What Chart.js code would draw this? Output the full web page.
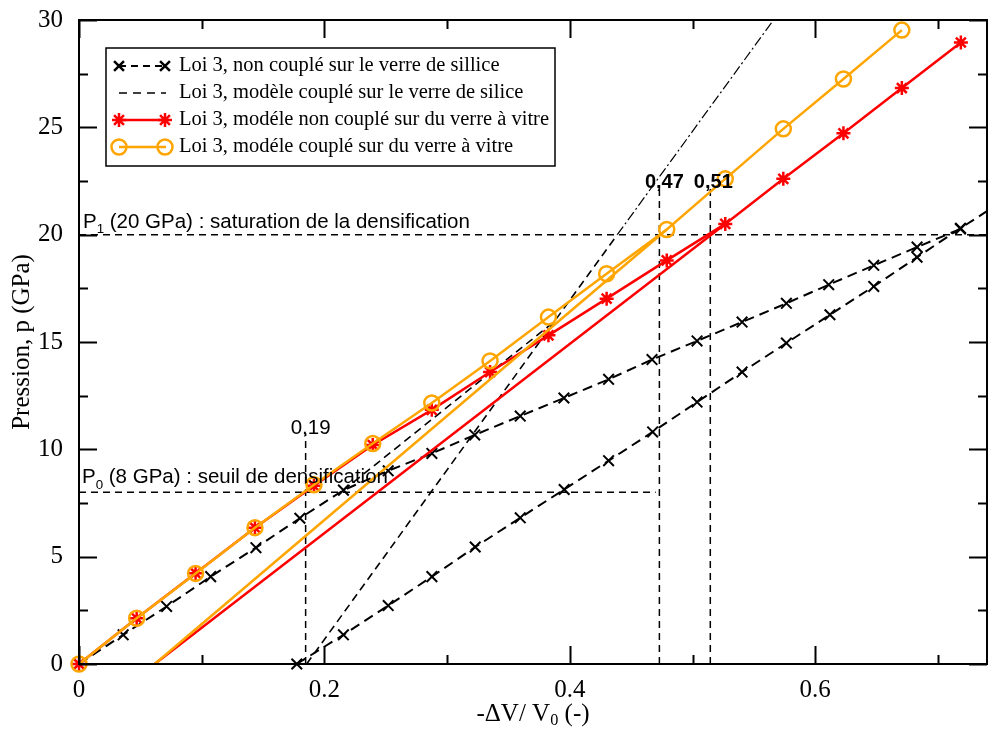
<!DOCTYPE html>
<html>
<head>
<meta charset="utf-8">
<script src="https://cdn.jsdelivr.net/npm/chart.js@4.4.0/dist/chart.umd.min.js"></script>
<style>
  body { margin: 0; background: #fff; }
  canvas { display: block; }
</style>
</head>
<body>
<canvas id="chart" width="988" height="730"></canvas>
<script>
// Loi 3, non couplé, verre de silice : branche montante puis descendante
var siliceUpX = [0, 0.036, 0.0714, 0.1073, 0.1442, 0.180, 0.2155, 0.252, 0.2876, 0.3225, 0.3596, 0.3952, 0.4316, 0.467, 0.5037, 0.5404, 0.5765, 0.611, 0.6477, 0.683, 0.7184];
var siliceUpY = [0, 1.36, 2.68, 4.07, 5.42, 6.79, 8.1, 9.0, 9.81, 10.67, 11.55, 12.39, 13.26, 14.18, 15.05, 15.93, 16.8, 17.67, 18.57, 19.42, 20.27];
var siliceDownX = [0.1775, 0.2155, 0.252, 0.2876, 0.3229, 0.3596, 0.3954, 0.4316, 0.4675, 0.5037, 0.5404, 0.5765, 0.612, 0.6477, 0.683, 0.7184, 0.755];
var siliceDownY = [0, 1.36, 2.72, 4.07, 5.45, 6.81, 8.13, 9.47, 10.81, 12.2, 13.6, 14.95, 16.27, 17.59, 18.95, 20.3, 21.65];

// Loi 3, modèle couplé, verre de silice
var coupleX = [0.2155, 0.3875, 0.4387];
var coupleY = [8.1, 15.96, 20.0];
var coupleBackX = [0.1855, 0.3875];
var coupleBackY = [0, 15.96];
var coupleSatX = [0.4387, 0.5787];
var coupleSatY = [20.0, 31.0];

// verre à vitre
var vitreX = [0, 0.047, 0.095, 0.1434, 0.1915, 0.2394, 0.2875, 0.335, 0.3826, 0.430, 0.479, 0.5267, 0.574, 0.623, 0.6706, 0.7187];
var vitreNonCoupleY = [0, 2.13, 4.23, 6.35, 8.3, 10.2, 11.84, 13.6, 15.31, 17.02, 18.8, 20.5, 22.6, 24.72, 26.83, 28.95];
var vitreCoupleY = [0, 2.13, 4.22, 6.35, 8.35, 10.27, 12.16, 14.12, 16.16, 18.18, 20.24, 22.6, 24.93, 27.25, 29.53];
var vitreNcBackX = [0.0617, 0.5267];
var vitreNcBackY = [0, 20.5];
var vitreCBackX = [0.0617, 0.479];
var vitreCBackY = [0, 20.24];

// droites de repère
var p1Line = [[0, 20], [0.74, 20]];
var p0Line = [[0, 8], [0.470, 8]];
var v019 = [[0.1847, 0], [0.1847, 10.75]];
var v047 = [[0.473, 0], [0.473, 22.15]];
var v051 = [[0.5145, 0], [0.5145, 22.15]];

var xTicks = [0, 0.2, 0.4, 0.6];
var yTicks = [0, 5, 10, 15, 20, 25, 30];

function pts(xs, ys) {
    var out = [];
    for (var i = 0; i < ys.length; i++) out.push({ x: xs[i], y: ys[i] });
    return out;
}
function pairs(arr) {
    return arr.map(function (p) { return { x: p[0], y: p[1] }; });
}

var RED = '#ff0000';
var ORANGE = '#ffa500';

function refLine(data) {
    return {
        data: pairs(data), showLine: true, borderColor: '#000', borderWidth: 1.5,
        borderDash: [7, 5], pointRadius: 0, order: 10, clip: false
    };
}

var datasets = [
    { label: 'Loi 3, modéle couplé sur du verre à vitre', data: pts(vitreX, vitreCoupleY), showLine: true,
      borderColor: ORANGE, borderWidth: 2.5, pointStyle: 'circle', pointRadius: 7.5, pointBorderWidth: 2.5,
      pointBackgroundColor: 'rgba(0,0,0,0)', pointBorderColor: ORANGE, order: 0, clip: false },
    { data: pts(vitreCBackX, vitreCBackY), showLine: true, borderColor: ORANGE, borderWidth: 2.5, pointRadius: 0, order: 1, clip: false },
    { label: 'Loi 3, modéle non couplé sur du verre à vitre', data: pts(vitreX, vitreNonCoupleY), showLine: true,
      borderColor: RED, borderWidth: 2.5, pointStyle: 'star', pointRadius: 7, pointBorderWidth: 2.5,
      pointBorderColor: RED, pointBackgroundColor: RED, order: 2, clip: false },
    { data: pts(vitreNcBackX, vitreNcBackY), showLine: true, borderColor: RED, borderWidth: 2.5, pointRadius: 0, order: 3, clip: false },
    { label: 'Loi 3, non couplé sur le verre de sillice', data: pts(siliceUpX, siliceUpY), showLine: true,
      borderColor: '#000', borderWidth: 2, borderDash: [10, 6], pointStyle: 'crossRot', pointRadius: 7.5,
      pointBorderWidth: 2, pointBorderColor: '#000', order: 4, clip: false },
    { data: pts(siliceDownX, siliceDownY), showLine: true, borderColor: '#000', borderWidth: 2, borderDash: [10, 6],
      pointStyle: 'crossRot', pointRadius: 7.5, pointBorderWidth: 2, pointBorderColor: '#000', order: 5, clip: false },
    { label: 'Loi 3, modéle couplé sur le verre de silice', data: pts(coupleX, coupleY), showLine: true,
      borderColor: '#000', borderWidth: 1.6, borderDash: [8, 5], pointRadius: 0, order: 6 },
    { data: pts(coupleBackX, coupleBackY), showLine: true, borderColor: '#000', borderWidth: 1.6, borderDash: [8, 5], pointRadius: 0, order: 6 },
    { data: pts(coupleSatX, coupleSatY), showLine: true, borderColor: '#000', borderWidth: 1.2, borderDash: [10, 3, 2, 3], pointRadius: 0, order: 6 },
    refLine(p1Line), refLine(p0Line), refLine(v019), refLine(v047), refLine(v051)
];

// legende faite a la main (symbole a chaque bout du trait)
var legendItems = [
    { text: 'Loi 3, non couplé sur le verre de sillice', color: '#000', width: 2, dash: [7, 5], marker: 'crossRot', r: 7 },
    { text: 'Loi 3, modèle couplé sur le verre de silice', color: '#000', width: 1.6, dash: [8, 6], marker: null },
    { text: 'Loi 3, modéle non couplé sur du verre à vitre', color: RED, width: 2.5, dash: [], marker: 'star', r: 7 },
    { text: 'Loi 3, modéle couplé sur du verre à vitre', color: ORANGE, width: 2.5, dash: [], marker: 'circle', r: 7.5 }
];

function drawSubText(ctx, x, y, parts, size, family, weight) {
    // parts: [text, isSub]
    parts.forEach(function (p) {
        var s = p[1] ? size * 0.65 : size;
        ctx.font = (weight || 'normal') + ' ' + s + 'px ' + family;
        ctx.fillText(p[0], x, y + (p[1] ? size * 0.28 : 0));
        x += ctx.measureText(p[0]).width;
    });
    return x;
}

var decorPlugin = {
    id: 'decor',
    afterDatasetsDraw: function (chart) {
        var ctx = chart.ctx, xs = chart.scales.x, ys = chart.scales.y;
        ctx.save();
        ctx.fillStyle = '#000';
        ctx.textAlign = 'left';
        ctx.textBaseline = 'alphabetic';
        var sans = '"Liberation Sans", Arial, sans-serif';
        drawSubText(ctx, xs.getPixelForValue(0) + 4, ys.getPixelForValue(20) - 7,
            [['P', false], ['1', true], [' (20 GPa) : saturation de la densification', false]], 20.5, sans);
        drawSubText(ctx, xs.getPixelForValue(0) + 3, ys.getPixelForValue(8) - 9,
            [['P', false], ['0', true], [' (8 GPa) : seuil de densification', false]], 20.5, sans);
        ctx.textAlign = 'center';
        ctx.font = '20.5px ' + sans;
        ctx.fillText('0,19', xs.getPixelForValue(v019[0][0]) + 5, ys.getPixelForValue(v019[1][1]) + 1);
        ctx.font = 'bold 20px ' + sans;
        ctx.fillText('0,47', xs.getPixelForValue(v047[0][0]) + 5, ys.getPixelForValue(v047[1][1]) - 1);
        ctx.fillText('0,51', xs.getPixelForValue(v051[0][0]) + 3, ys.getPixelForValue(v051[1][1]) - 1);
        ctx.restore();
    },
    afterDraw: function (chart) {
        var ctx = chart.ctx, a = chart.chartArea, xs = chart.scales.x, ys = chart.scales.y;
        ctx.save();
        // cadre + graduations vers l'interieur
        ctx.strokeStyle = '#000';
        ctx.lineWidth = 2;
        ctx.setLineDash([]);
        ctx.strokeRect(a.left, a.top, a.right - a.left, a.bottom - a.top);
        ctx.beginPath();
        for (var i = 0; i <= 7; i++) {
            var px = Math.round(xs.getPixelForValue(i / 10)) + 0.5;
            var len = i % 2 === 0 ? 18 : 9;
            ctx.moveTo(px, a.bottom); ctx.lineTo(px, a.bottom - len);
            ctx.moveTo(px, a.top); ctx.lineTo(px, a.top + len);
        }
        for (var j = 0; j <= 12; j++) {
            var py = Math.round(ys.getPixelForValue(j * 2.5)) + 0.5;
            var l2 = j % 2 === 0 ? 18 : 9;
            ctx.moveTo(a.left, py); ctx.lineTo(a.left + l2, py);
            ctx.moveTo(a.right, py); ctx.lineTo(a.right - l2, py);
        }
        ctx.stroke();

        // titres des axes
        var serif = '"Liberation Serif", "Times New Roman", serif';
        ctx.fillStyle = '#000';
        ctx.textBaseline = 'middle';
        var parts = [['-ΔV/ V', false], ['0', true], [' (-)', false]];
        var w = 0;
        parts.forEach(function (p) {
            ctx.font = (p[1] ? 16.25 : 25) + 'px ' + serif;
            w += ctx.measureText(p[0]).width;
        });
        ctx.textAlign = 'left';
        drawSubText(ctx, (a.left + a.right) / 2 - w / 2, 714, parts, 25, serif);
        ctx.save();
        ctx.translate(22, (a.top + a.bottom) / 2);
        ctx.rotate(-Math.PI / 2);
        ctx.textAlign = 'center';
        ctx.font = '25px ' + serif;
        ctx.fillText('Pression, p (GPa)', 0, 0);
        ctx.restore();

        // legende
        var bx = 106, by = 48, bw = 449, bh = 118;
        ctx.fillStyle = '#fff';
        ctx.fillRect(bx, by, bw, bh);
        ctx.lineWidth = 1.5;
        ctx.strokeStyle = '#000';
        ctx.strokeRect(bx, by, bw, bh);
        legendItems.forEach(function (it, k) {
            var cy = 66 + k * 27;
            ctx.strokeStyle = it.color;
            ctx.lineWidth = it.width;
            ctx.setLineDash(it.dash);
            ctx.beginPath();
            ctx.moveTo(119, cy); ctx.lineTo(166, cy);
            ctx.stroke();
            ctx.setLineDash([]);
            if (it.marker) {
                ctx.fillStyle = it.marker === 'circle' ? 'rgba(0,0,0,0)' : it.color;
                ctx.lineWidth = 2.5;
                [119, 165].forEach(function (mx) {
                    Chart.helpers.drawPoint(ctx, { pointStyle: it.marker, radius: it.r, rotation: 0, borderWidth: 2.5 }, mx, cy);
                });
            }
            ctx.fillStyle = '#000';
            ctx.font = '20.5px ' + serif;
            ctx.textAlign = 'left';
            ctx.textBaseline = 'middle';
            ctx.fillText(it.text, 179, cy);
        });
        ctx.restore();
    }
};

function noPad(s) {
    s.paddingLeft = 0;
    s.paddingRight = 0;
    s.paddingTop = 0;
    s.paddingBottom = 0;
}

var myChart = new Chart(document.getElementById('chart'), {
    type: 'scatter',
    data: { datasets: datasets },
    options: {
        responsive: false,
        animation: false,
        devicePixelRatio: 1,
        layout: { autoPadding: false, padding: { left: 0, right: 1, top: 20, bottom: 0 } },
        plugins: { legend: { display: false }, tooltip: { enabled: false } },
        scales: {
            x: {
                type: 'linear', min: 0, max: 0.74,
                grid: { display: false },
                border: { display: false },
                afterFit: function (s) { s.height = 66; noPad(s); },
                afterBuildTicks: function (s) { s.ticks = xTicks.map(function (v) { return { value: v }; }); },
                ticks: {
                    padding: 3, color: '#000',
                    font: { family: '"Liberation Serif", serif', size: 25 },
                    callback: function (v) { return v === 0 ? '0' : v.toFixed(1); }
                }
            },
            y: {
                type: 'linear', min: 0, max: 30,
                grid: { display: false },
                border: { display: false },
                afterFit: function (s) { s.width = 79; noPad(s); },
                afterBuildTicks: function (s) { s.ticks = yTicks.map(function (v) { return { value: v }; }); },
                ticks: {
                    padding: 8, color: '#000',
                    font: { family: '"Liberation Serif", serif', size: 25 }
                }
            }
        }
    },
    plugins: [decorPlugin]
});
</script>
</body>
</html>
